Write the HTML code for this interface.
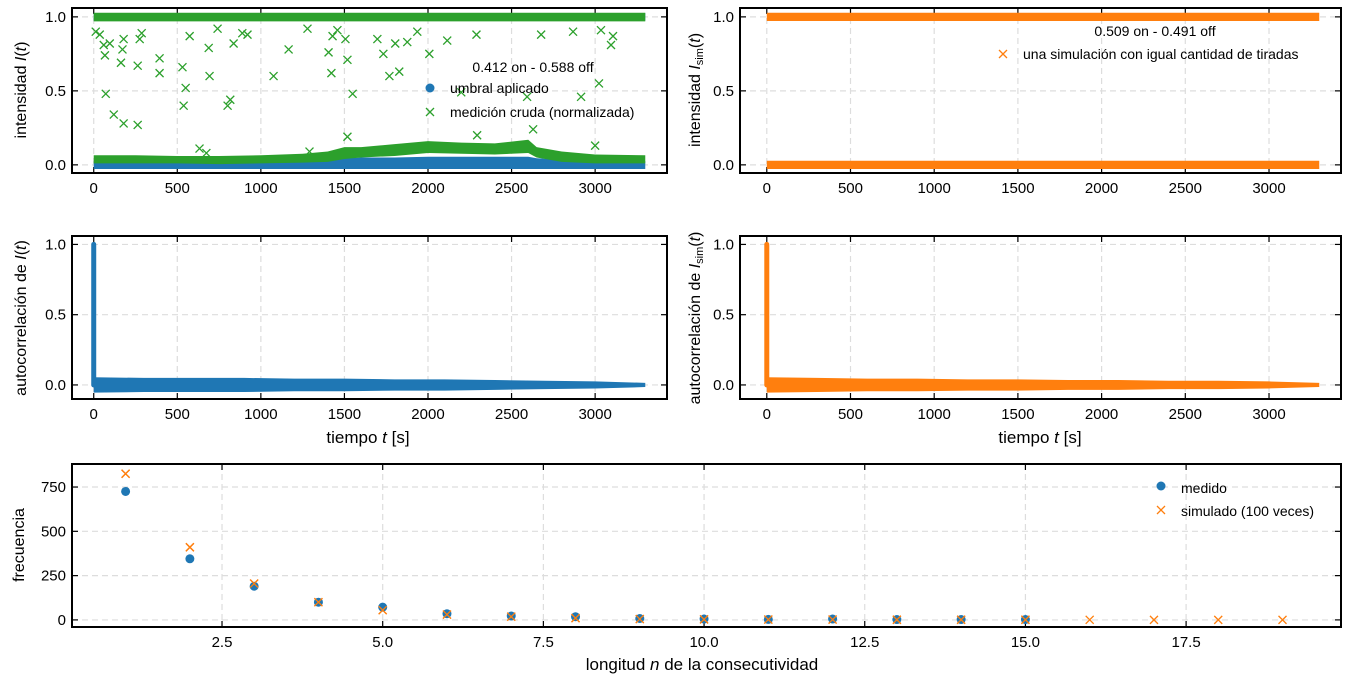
<!DOCTYPE html>
<html><head><meta charset="utf-8">
<style>
body{margin:0;background:#fff;}
svg{display:block;font-family:"Liberation Sans",sans-serif;}
</style></head>
<body>
<svg id="fig" width="1350" height="683" viewBox="0 0 1350 683"></svg>
<script>
// ---------- data ----------
const outT=[12,36,60,67,96,72,120,163,179,172,179,263,263,275,287,394,394,531,538,550,574,633,674,688,693,741,801,817,837,889,920,1076,1166,1279,1291,1405,1422,1429,1458,1506,1518,1549,1518,1697,1733,1769,1804,1828,1876,1936,2008,2115,2199,2290,2294,2593,2629,2677,2868,2916,3000,3035,3023,3107,3095];
const outV=[.90,.88,.81,.74,.82,.48,.34,.69,.28,.78,.85,.27,.67,.85,.89,.72,.62,.66,.40,.52,.87,.11,.08,.79,.60,.92,.40,.44,.82,.89,.88,.60,.78,.92,.09,.76,.62,.87,.91,.85,.71,.48,.19,.85,.75,.60,.82,.63,.83,.90,.75,.84,.49,.88,.20,.46,.24,.88,.90,.46,.13,.91,.55,.87,.81];
const bandT=[0,250,500,750,1000,1250,1400,1500,1600,1800,2000,2200,2400,2600,2650,2800,3000,3300];
const greenLo=[.01,.01,.01,.005,.01,.015,.02,.04,.05,.06,.08,.075,.07,.08,.05,.02,.01,.01];
const greenHi=[.065,.065,.06,.06,.065,.075,.09,.12,.12,.14,.16,.15,.145,.17,.12,.09,.07,.065];
const blueHi=[.025,.025,.025,.025,.025,.03,.035,.045,.05,.05,.055,.055,.055,.055,.045,.035,.03,.025];
const acT=[0,300,600,900,1200,1500,1800,2100,2400,2700,3000,3300];
const acAmpMeas=[.055,.05,.05,.05,.045,.045,.04,.04,.035,.03,.025,.015];
const acAmpSim=[.055,.05,.045,.045,.04,.04,.035,.035,.03,.03,.025,.015];
const runN=[1,2,3,4,5,6,7,8,9,10,11,12,13,14,15];
const runMeas=[725,345,190,100,72,35,22,18,8,5,3,5,2,2,2];
const simN=[1,2,3,4,5,6,7,8,9,10,11,12,13,14,15,16,17,18,19];
const runSim=[825,410,205,100,55,30,18,10,5,3,2,2,1,1,1,0.5,0.3,0.2,0.1];
const tTicks=[0,500,1000,1500,2000,2500,3000];
const iTicks=[0,0.5,1];
const nTicks=[2.5,5,7.5,10,12.5,15,17.5];
const fTicks=[0,250,500,750];

const NS="http://www.w3.org/2000/svg";
const svg=document.getElementById('fig');
function mk(tag,attrs,parent){const e=document.createElementNS(NS,tag);for(const k in attrs)e.setAttribute(k,attrs[k]);(parent||svg).appendChild(e);return e;}
function txt(s,x,y,attrs,parent){const e=mk('text',Object.assign({x:x,y:y,'font-size':15,fill:'#000'},attrs),parent);e.textContent=s;return e;}
function rich(parts,x,y,attrs,parent){const e=mk('text',Object.assign({x:x,y:y,'font-size':16,fill:'#000'},attrs),parent);
  parts.forEach(p=>{const ts=mk('tspan',p[1]||{},e);ts.textContent=p[0];});return e;}
const BLUE='#1f77b4',ORANGE='#ff7f0e',GREEN='#2ca02c';

function panel(name,L,R,T,B,xd,yd,xt,yt,xfmt,yfmt){
  const g=mk('g',{});
  
  
  const sx=v=>L+(v-xd[0])/(xd[1]-xd[0])*(R-L);
  const sy=v=>B-(v-yd[0])/(yd[1]-yd[0])*(B-T);
  xt.forEach(v=>{const X=sx(v);
    const gl=mk('line',{x1:X,x2:X,y1:T,y2:B,stroke:'#ddd','stroke-dasharray':'6,4','stroke-width':1.2},g);
    
    mk('line',{x1:X,x2:X,y1:B,y2:B-6,stroke:'#000','stroke-width':1.2},g);
    mk('line',{x1:X,x2:X,y1:T,y2:T+6,stroke:'#000','stroke-width':1.2},g);
    const t=txt(xfmt(v),X,B+20,{'text-anchor':'middle'},g);
    });
  yt.forEach(v=>{const Y=sy(v);
    const gl=mk('line',{x1:L,x2:R,y1:Y,y2:Y,stroke:'#ddd','stroke-dasharray':'6,4','stroke-width':1.2},g);
    
    mk('line',{x1:L,x2:L+6,y1:Y,y2:Y,stroke:'#000','stroke-width':1.2},g);
    mk('line',{x1:R,x2:R-6,y1:Y,y2:Y,stroke:'#000','stroke-width':1.2},g);
    const t=txt(yfmt(v),L-6,Y+5,{'text-anchor':'end'},g);
    });
  const plot=mk('g',{},g);
  const fr=mk('rect',{x:L,y:T,width:R-L,height:B-T,fill:'none',stroke:'#000','stroke-width':2},g);
  
  return {g,plot,sx,sy,L,R,T,B};
}
function band(p,xs,lo,hi,color,name){
  let d='M'+xs.map((t,i)=>p.sx(t)+','+p.sy(hi[i])).join('L');
  d+='L'+xs.map((t,i)=>[t,i]).reverse().map(([t,i])=>p.sx(t)+','+p.sy(lo[i])).join('L')+'Z';
  const e=mk('path',{d:d,fill:color},p.plot);
  
}
function xmark(par,X,Y,s,color,w){
  mk('path',{d:`M${X-s},${Y-s}L${X+s},${Y+s}M${X-s},${Y+s}L${X+s},${Y-s}`,stroke:color,'stroke-width':w||1.3,fill:'none'},par);
}
const f1=v=>v.toFixed(1), f0=v=>String(v);
const IT={'font-style':'italic'};
const SUB={'font-size':11,dy:3};
const UP={dy:-3};

// ---- panel 1 ----
const p1=panel('intensity-panel',72,667,8,173,[-130,3430],[-0.055,1.06],tTicks,iTicks,f0,f1);
band(p1,bandT,bandT.map(()=>-0.028),blueHi,BLUE,'threshold-low-band');
band(p1,[0,3300],[0.975,0.975],[1.025,1.025],BLUE,'threshold-high-band');
band(p1,[0,3300],[0.97,0.97],[1.028,1.028],GREEN,'raw-high-band');
band(p1,bandT,greenLo,greenHi,GREEN,'raw-low-band');
outT.forEach((t,i)=>{const gg=mk('g',{},p1.plot);
  
  xmark(gg,p1.sx(t),p1.sy(outV[i]),4,GREEN);});
let yl=rich([['intensidad '],['I',IT],['('],['t',IT],[')']],0,0,{transform:'translate(26,90) rotate(-90)','text-anchor':'middle'});

let lg=mk('g',{});
txt('0.412 on - 0.588 off',533,72,{'text-anchor':'middle','font-size':14},lg);
mk('circle',{cx:430,cy:88,r:4.5,fill:BLUE},lg);
txt('umbral aplicado',450,93,{'font-size':14},lg);
xmark(lg,430,112,4,GREEN);
txt('medición cruda (normalizada)',450,117,{'font-size':14},lg);

// ---- panel 2 ----
const p2=panel('simulated-intensity-panel',740,1341,8,173,[-160,3430],[-0.055,1.06],tTicks,iTicks,f0,f1);
band(p2,[0,3300],[-0.028,-0.028],[0.028,0.028],ORANGE,'sim-low-band');
band(p2,[0,3300],[0.972,0.972],[1.028,1.028],ORANGE,'sim-high-band');
yl=rich([['intensidad '],['I',IT],['sim',SUB],['(',UP],['t',IT],[')']],0,0,{transform:'translate(700,90) rotate(-90)','text-anchor':'middle'});

lg=mk('g',{});
txt('0.509 on - 0.491 off',1155,36,{'text-anchor':'middle','font-size':14},lg);
xmark(lg,1003,54,4,ORANGE);
txt('una simulación con igual cantidad de tiradas',1023,59,{'font-size':14},lg);

// ---- panels 3 & 4 (autocorrelation) ----
function acPanel(name,L,R,xd,amp,color,xlabelX,yparts,yx){
  const p=panel(name,L,R,236,399,xd,[-0.1,1.06],tTicks,iTicks,f0,f1);
  band(p,acT,amp.map(a=>-a),amp,color,'autocorr-noise-band');
  const sp=mk('line',{x1:p.sx(0),x2:p.sx(0),y1:p.sy(0),y2:p.sy(1),stroke:color,'stroke-width':5,'stroke-linecap':'round'},p.plot);
  
  let t=rich([['tiempo '],['t',IT],[' [s]']],xlabelX,443,{'text-anchor':'middle','font-size':17});
  
  t=rich(yparts,0,0,{transform:`translate(${yx},318) rotate(-90)`,'text-anchor':'middle'});
  
  return p;
}
acPanel('autocorr-panel',72,667,[-130,3430],acAmpMeas,BLUE,368,[['autocorrelación de '],['I',IT],['('],['t',IT],[')']],26);
acPanel('sim-autocorr-panel',740,1341,[-160,3430],acAmpSim,ORANGE,1040,[['autocorrelación de '],['I',IT],['sim',SUB],['(',UP],['t',IT],[')']],700);

// ---- panel 5 ----
const p5=panel('run-length-panel',72,1341,464,627,[0.166,19.91],[-40,880],nTicks,fTicks,f1,f0);
simN.forEach((n,i)=>{const gg=mk('g',{},p5.plot);
  
  xmark(gg,p5.sx(n),p5.sy(runSim[i]),4,ORANGE);});
runN.forEach((n,i)=>{const c=mk('circle',{cx:p5.sx(n),cy:p5.sy(runMeas[i]),r:4.5,fill:BLUE},p5.plot);
  });
simN.forEach((n,i)=>{if(n<=15){xmark(p5.plot,p5.sx(n),p5.sy(runSim[i]),4,ORANGE);}});
let t5=rich([['longitud '],['n',IT],[' de la consecutividad']],702,670,{'text-anchor':'middle','font-size':17});

t5=txt('frecuencia',0,0,{transform:'translate(24,545) rotate(-90)','text-anchor':'middle','font-size':16});

lg=mk('g',{});
mk('circle',{cx:1161,cy:486,r:4.5,fill:BLUE},lg);
txt('medido',1181,493,{'font-size':14},lg);
xmark(lg,1161,510,4,ORANGE);
txt('simulado (100 veces)',1181,516,{'font-size':14},lg);
</script>
</body></html>
